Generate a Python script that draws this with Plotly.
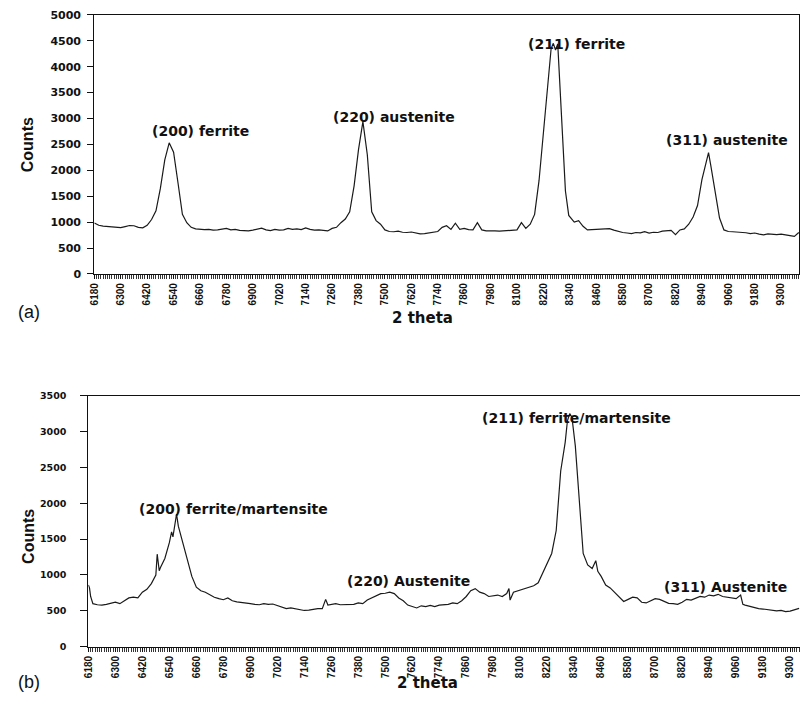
import plotly.graph_objects as go

# ---------------- Panel (a) data ----------------
theta_a = [6180, 6200, 6220, 6240, 6260, 6280, 6300, 6320, 6340, 6360, 6380, 6400, 6420, 6440,
           6460, 6480, 6500, 6520, 6540, 6560, 6580, 6600, 6620, 6640, 6660, 6680, 6700, 6720,
           6740, 6760, 6780, 6800, 6820, 6840, 6860, 6880, 6900, 6920, 6940, 6960, 6980, 7000,
           7020, 7040, 7060, 7080, 7100, 7120, 7140, 7160, 7180, 7200, 7220, 7240, 7260, 7280,
           7300, 7320, 7340, 7360, 7380, 7400, 7420, 7440, 7460, 7480, 7500, 7520, 7540, 7560,
           7580, 7600, 7620, 7640, 7660, 7680, 7700, 7720, 7740, 7760, 7780, 7800, 7820, 7840,
           7860, 7880, 7900, 7920, 7940, 7960, 7980, 8000, 8020, 8040, 8060, 8080, 8100, 8120,
           8140, 8160, 8180, 8200, 8220, 8240, 8255, 8265, 8275, 8285, 8295, 8305, 8320, 8335,
           8360, 8380, 8400, 8420, 8440, 8460, 8480, 8500, 8520, 8540, 8560, 8580, 8600, 8620,
           8640, 8660, 8680, 8700, 8720, 8740, 8760, 8780, 8800, 8820, 8840, 8860, 8880, 8900,
           8920, 8940, 8960, 8970, 8980, 9000, 9020, 9040, 9060, 9080, 9100, 9120, 9140, 9160,
           9180, 9200, 9220, 9240, 9260, 9280, 9300, 9320, 9340, 9360, 9380]
counts_a = [985, 940, 925, 915, 910, 905, 895, 915, 935, 930, 900, 890, 940, 1050,
            1220, 1650, 2200, 2530, 2350, 1760, 1150, 990, 900, 870, 860, 855, 860, 845,
            850, 870, 880, 850, 860, 840, 835, 830, 845, 870, 885, 850, 835, 860,
            845, 850, 880, 860, 870, 855, 890, 860, 845, 850, 835, 830, 880, 900,
            990, 1060, 1200, 1700, 2400, 2940, 2300, 1200, 1030, 960, 850, 820, 815, 825,
            805, 800, 810, 790, 775, 780, 790, 800, 820, 900, 930, 860, 980, 860,
            880, 855, 850, 990, 850, 830, 835, 830, 825, 830, 840, 845, 850, 990,
            880, 960, 1150, 1800, 2700, 3750, 4350, 4450, 4320, 4440, 3600, 2650, 1600, 1130,
            1000, 1030, 920, 850, 855, 870, 865, 870, 875, 845, 815, 800, 790, 780,
            800, 795, 815, 790, 805, 800, 825, 835, 840, 760, 850, 870, 960, 1100,
            1320, 1820, 2200, 2340, 2100, 1550, 1080, 850, 820, 815, 810, 800, 795, 780,
            790, 770, 755, 775, 770, 760, 770, 750, 740, 725, 800]

# ---------------- Panel (b) data ----------------
theta_b = [6180, 6185, 6190, 6200, 6220, 6240, 6260, 6280, 6300, 6320, 6340, 6360, 6380, 6400,
           6420, 6440, 6460, 6480, 6486, 6495, 6500, 6520, 6540, 6550, 6556, 6565, 6572, 6580,
           6600, 6620, 6640, 6660, 6680, 6700, 6720, 6740, 6760, 6780, 6800, 6820, 6840, 6860,
           6880, 6900, 6920, 6940, 6960, 6980, 7000, 7020, 7040, 7060, 7080, 7100, 7120, 7140,
           7160, 7180, 7200, 7220, 7235, 7245, 7260, 7280, 7300, 7320, 7340, 7360, 7380, 7400,
           7420, 7440, 7460, 7480, 7500, 7520, 7540, 7560, 7580, 7600, 7620, 7640, 7660, 7680,
           7700, 7720, 7740, 7760, 7780, 7800, 7820, 7840, 7860, 7880, 7900, 7920, 7940, 7960,
           7980, 8000, 8020, 8040, 8050, 8055, 8070, 8080, 8100, 8120, 8140, 8160, 8180, 8200,
           8220, 8240, 8260, 8280, 8300, 8310, 8320, 8330, 8345, 8360, 8380, 8400, 8420, 8436,
           8445, 8460, 8480, 8500, 8520, 8540, 8560, 8580, 8600, 8620, 8640, 8660, 8680, 8700,
           8720, 8740, 8760, 8780, 8800, 8820, 8840, 8860, 8880, 8900, 8920, 8940, 8960, 8980,
           9000, 9020, 9040, 9060, 9080, 9090, 9100, 9120, 9140, 9160, 9180, 9200, 9220, 9240,
           9260, 9280, 9300, 9320, 9340]
counts_b = [860, 820, 700, 600, 585, 580, 590, 610, 620, 600, 640, 680, 690, 680,
            760, 800, 880, 1000, 1290, 1060, 1100, 1230, 1450, 1600, 1530, 1700, 1850, 1680,
            1450, 1200, 980, 830, 780, 760, 720, 690, 670, 655, 680, 640, 625, 620,
            605, 600, 590, 585, 600, 590, 595, 570, 545, 530, 540, 525, 520, 505,
            510, 525, 530, 530, 660, 580, 590, 600, 585, 590, 595, 590, 610, 600,
            650, 680, 700, 740, 745, 760, 740, 680, 640, 580, 560, 540, 570, 560,
            575, 560, 580, 585, 590, 610, 600, 640, 700, 780, 810, 760, 740, 700,
            710, 720, 700, 740, 810, 650, 760, 770, 790, 810, 830, 850, 890, 1020,
            1150, 1300, 1620, 2450, 2850, 3150, 3250, 3200, 2800, 2100, 1300, 1140, 1090, 1200,
            1050, 980, 860, 820, 760, 700, 630, 660, 690, 680, 620, 610, 640, 670,
            660, 630, 605, 600, 590, 620, 660, 650, 680, 700, 690, 720, 710, 730,
            700, 690, 680, 670, 720, 590, 580, 560, 540, 530, 525, 515, 510, 500,
            505, 490, 495, 520, 535]

x_tick_vals = list(range(6180, 9301, 120))
y_ticks_a = list(range(0, 5001, 500))
y_ticks_b = list(range(0, 3501, 500))

labels_a = ["(200) ferrite", "(220) austenite", "(211) ferrite", "(311) austenite"]
label_x_a = [6660, 7541, 8371, 9055]
label_y_a = [2752, 3025, 4445, 2581]
labels_b = ["(200) ferrite/martensite", "(220) Austenite", "(211) ferrite/martensite", "(311) Austenite"]
label_x_b = [6824, 7602, 8349, 9013]
label_y_b = [1926, 915, 3188, 833]

fig = go.Figure()
fig.add_trace(go.Scatter(x=theta_a, y=counts_a, mode="lines",
                         line=dict(color="#1a1a1a", width=1.2), xaxis="x", yaxis="y",
                         showlegend=False, hoverinfo="skip"))
fig.add_trace(go.Scatter(x=theta_b, y=counts_b, mode="lines",
                         line=dict(color="#1a1a1a", width=1.2), xaxis="x2", yaxis="y2",
                         showlegend=False, hoverinfo="skip"))

xtickfont = dict(family="Liberation Sans, Arial, sans-serif", size=10, color="#111", weight="bold")

common_x = dict(tickmode="array", tickvals=x_tick_vals, tickangle=-90,
                ticks="outside", ticklen=4, tickwidth=1, tickcolor="#111",
                showline=True, linecolor="#111", linewidth=1.4, mirror=True,
                showgrid=False, zeroline=False, tickfont=xtickfont,
                minor=dict(dtick=10, tick0=6180, ticks="outside", ticklen=4,
                           tickcolor="#333", tickwidth=1, showgrid=False))

fig.update_layout(
    width=800, height=706,
    margin=dict(l=0, r=0, t=0, b=0),
    paper_bgcolor="white", plot_bgcolor="white",
    xaxis=dict(domain=[89 / 800, 799 / 800], range=[6180, 9381], anchor="y", **common_x),
    yaxis=dict(domain=[(706 - 273) / 706, (706 - 9) / 706], range=[0, 5000], anchor="x",
               tickmode="array", tickvals=y_ticks_a, ticks="outside", ticklen=6,
               tickcolor="#111", showline=True, linecolor="#111", linewidth=1.2,
               mirror=True, showgrid=False, zeroline=False, ticklabelstandoff=4,
               tickfont=dict(family="DejaVu Sans, sans-serif", size=11, color="#111",
                             weight="bold")),
    xaxis2=dict(domain=[83 / 800, 1.0], range=[6180, 9344], anchor="y2", **common_x),
    yaxis2=dict(domain=[(706 - 652.7) / 706, (706 - 397) / 706], range=[0, 3500], anchor="x2",
                tickmode="array", tickvals=y_ticks_b, ticks="outside", ticklen=7,
                tickcolor="#111", showline=True, linecolor="#111", linewidth=1.2,
                showgrid=False, zeroline=False, ticklabelstandoff=12,
                tickfont=dict(family="DejaVu Sans, sans-serif", size=9.5, color="#111",
                              weight="bold")),
)

ann_font = dict(family="DejaVu Sans, sans-serif", size=14, color="#111", weight="bold")
for t, x, y in zip(labels_a, label_x_a, label_y_a):
    fig.add_annotation(text=t, x=x, y=y, xref="x", yref="y", showarrow=False,
                       font=ann_font, xanchor="center", yanchor="middle")
for t, x, y in zip(labels_b, label_x_b, label_y_b):
    fig.add_annotation(text=t, x=x, y=y, xref="x2", yref="y2", showarrow=False,
                       font=ann_font, xanchor="center", yanchor="middle")

title_font = dict(family="Liberation Sans Narrow, Liberation Sans, Arial, sans-serif",
                  size=16, color="#111", weight="bold")
theta_font = dict(family="DejaVu Sans, sans-serif", size=15, color="#111", weight="bold")
panel_font = dict(family="Liberation Sans, Arial, sans-serif", size=18, color="#111")

for ypx in (141, 540):
    fig.add_annotation(text="Counts", x=22 / 800, y=(706 - ypx) / 706, xref="paper",
                       yref="paper", showarrow=False, textangle=-90, font=title_font,
                       xanchor="center", yanchor="middle")
for xpx, ypx in ((420, 318), (425, 690)):
    fig.add_annotation(text="2 theta", x=xpx / 800, y=(706 - ypx) / 706, xref="paper",
                       yref="paper", showarrow=False, font=theta_font,
                       xanchor="center", yanchor="middle")
for t, ypx in (("(a)", 312), ("(b)", 689)):
    fig.add_annotation(text=t, x=23 / 800, y=(706 - ypx) / 706, xref="paper",
                       yref="paper", showarrow=False, font=panel_font,
                       xanchor="center", yanchor="middle")

fig.write_html("out.html")
